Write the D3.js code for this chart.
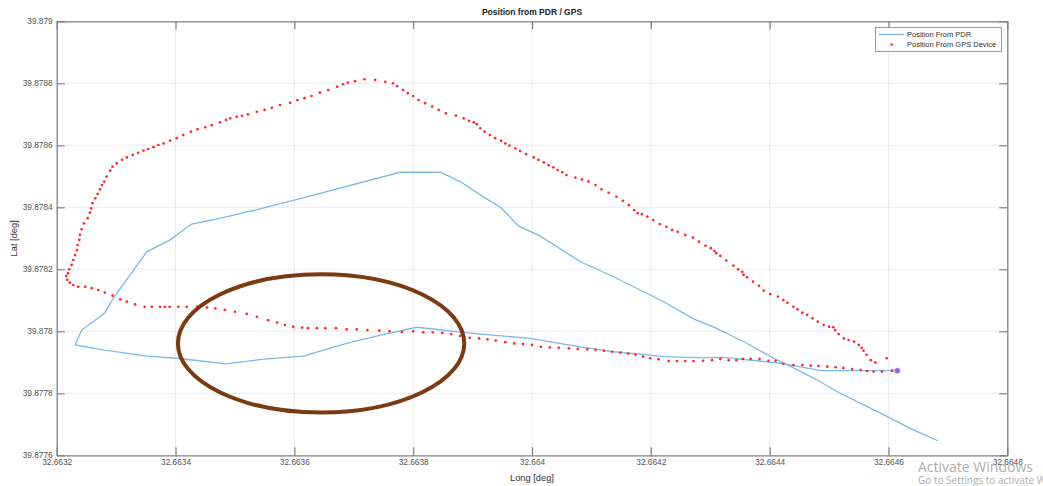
<!DOCTYPE html>
<html><head><meta charset="utf-8">
<script src="https://cdn.jsdelivr.net/npm/d3@7"></script>
<style>body{margin:0;background:#fff}svg{display:block}text{font-family:"Liberation Sans",Arial,sans-serif}</style>
</head><body><svg id="c" width="1043" height="486"></svg><script>
const titleText = "Position from PDR / GPS";
const xLabel = "Long [deg]";
const yLabel = "Lat [deg]";
const seriesNames = ["Position From PDR", "Position From GPS Device"];
const xTicks = [32.6632,32.6634,32.6636,32.6638,32.6640,32.6642,32.6644,32.6646,32.6648];
const xTickLabels = ["32.6632","32.6634","32.6636","32.6638","32.664","32.6642","32.6644","32.6646","32.6648"];
const yTicks = [39.8776,39.8778,39.8780,39.8782,39.8784,39.8786,39.8788,39.8790];
const yTickLabels = ["39.8776","39.8778","39.878","39.8782","39.8784","39.8786","39.8788","39.879"];

const pdrLon = [32.664615,32.664486,32.664418,32.664323,32.664281,32.664222,32.664194,32.664137,32.664081,32.663997,
32.663913,32.663806,32.663745,32.663688,32.663615,32.663548,32.663486,32.663402,32.663352,32.663278,
32.663231,32.663242,32.663281,32.663295,32.663352,32.663391,32.663427,32.663461,32.663534,32.663618,
32.663778,32.663846,32.663879,32.663913,32.663949,32.663977,32.664014,32.664081,32.664137,32.664216,
32.664272,32.664305,32.664356,32.664406,32.664440,32.664480,32.664514,32.664598,32.664642,32.664683];
const pdrLat = [39.877873,39.877873,39.877897,39.877916,39.877915,39.877918,39.877924,39.877934,39.877950,39.877977,
39.877991,39.878013,39.877988,39.877961,39.877920,39.877910,39.877895,39.877913,39.877920,39.877940,
39.877956,39.878004,39.878059,39.878106,39.878257,39.878295,39.878346,39.878359,39.878391,39.878432,
39.878513,39.878513,39.878483,39.878440,39.878397,39.878340,39.878307,39.878225,39.878176,39.878101,
39.878040,39.878014,39.877967,39.877914,39.877882,39.877843,39.877805,39.877725,39.877682,39.877647];

const gpsLon = [32.664615,32.664606,32.664589,32.664575,32.664564,32.664553,32.664539,32.664524,32.664511,32.664497,
32.664482,32.664469,32.664455,32.664440,32.664423,32.664410,32.664398,32.664383,32.664368,32.664355,
32.664344,32.664331,32.664317,32.664303,32.664288,32.664272,32.664258,32.664244,32.664230,32.664213,
32.664199,32.664187,32.664174,32.664162,32.664149,32.664135,32.664121,32.664107,32.664093,32.664077,
32.664062,32.664045,32.664030,32.664015,32.664000,32.663985,32.663970,32.663955,32.663939,32.663925,
32.663911,32.663895,32.663879,32.663864,32.663849,32.663833,32.663817,32.663800,32.663781,32.663760,
32.663743,32.663723,32.663705,32.663688,32.663670,32.663652,32.663638,32.663623,32.663613,32.663598,
32.663584,32.663571,32.663556,32.663537,32.663520,32.663500,32.663483,32.663467,32.663453,32.663436,
32.663419,32.663405,32.663390,32.663382,32.663374,32.663360,32.663348,32.663332,32.663318,32.663307,
32.663294,32.663281,32.663270,32.663259,32.663248,32.663236,32.663228,32.663222,32.663218,32.663216,
32.663219,32.663221,32.663225,32.663228,32.663231,32.663234,32.663235,32.663238,32.663239,32.663242,
32.663246,32.663252,32.663256,32.663258,32.663260,32.663265,32.663269,32.663273,32.663276,32.663280,
32.663284,32.663290,32.663294,32.663301,32.663310,32.663318,32.663328,32.663337,32.663346,32.663354,
32.663363,32.663371,32.663380,32.663391,32.663402,32.663413,32.663426,32.663437,32.663450,32.663461,
32.663475,32.663485,32.663492,32.663503,32.663512,32.663522,32.663537,32.663550,32.663562,32.663576,
32.663593,32.663605,32.663617,32.663629,32.663643,32.663657,32.663672,32.663682,32.663690,32.663702,
32.663718,32.663736,32.663753,32.663766,32.663773,32.663783,32.663791,32.663800,32.663809,32.663820,
32.663832,32.663843,32.663855,32.663872,32.663885,32.663894,32.663902,32.663907,32.663913,32.663920,
32.663929,32.663938,32.663948,32.663955,32.663962,32.663972,32.663980,32.663990,32.664003,32.664011,
32.664020,32.664028,32.664036,32.664043,32.664051,32.664058,32.664073,32.664084,32.664095,32.664107,
32.664117,32.664129,32.664142,32.664153,32.664163,32.664172,32.664178,32.664185,32.664194,32.664204,
32.664215,32.664226,32.664236,32.664245,32.664258,32.664271,32.664281,32.664292,32.664301,32.664307,
32.664310,32.664317,32.664327,32.664339,32.664347,32.664354,32.664356,32.664362,32.664372,32.664382,
32.664390,32.664401,32.664414,32.664423,32.664430,32.664440,32.664447,32.664455,32.664463,32.664472,
32.664481,32.664491,32.664500,32.664507,32.664510,32.664516,32.664525,32.664533,32.664542,32.664550,
32.664555,32.664558,32.664563,32.664570,32.664578,32.664597];
const gpsLat = [39.877873,39.877873,39.877870,39.877870,39.877872,39.877875,39.877878,39.877882,39.877884,39.877886,
39.877888,39.877889,39.877891,39.877891,39.877895,39.877905,39.877905,39.877911,39.877911,39.877911,
39.877907,39.877907,39.877911,39.877907,39.877905,39.877904,39.877904,39.877904,39.877904,39.877910,
39.877913,39.877918,39.877925,39.877928,39.877931,39.877934,39.877937,39.877940,39.877942,39.877943,
39.877945,39.877947,39.877948,39.877950,39.877956,39.877959,39.877961,39.877965,39.877970,39.877974,
39.877977,39.877979,39.877985,39.877991,39.877995,39.877997,39.877997,39.878000,39.877998,39.878000,
39.878002,39.878004,39.878006,39.878006,39.878010,39.878010,39.878010,39.878010,39.878012,39.878015,
39.878020,39.878028,39.878036,39.878047,39.878056,39.878063,39.878069,39.878074,39.878077,39.878079,
39.878079,39.878079,39.878079,39.878079,39.878079,39.878079,39.878079,39.878087,39.878096,39.878103,
39.878115,39.878125,39.878133,39.878139,39.878144,39.878144,39.878149,39.878157,39.878166,39.878178,
39.878187,39.878200,39.878214,39.878230,39.878246,39.878262,39.878278,39.878295,39.878311,39.878329,
39.878348,39.878365,39.878383,39.878397,39.878413,39.878429,39.878443,39.878458,39.878472,39.878483,
39.878499,39.878518,39.878531,39.878542,39.878553,39.878561,39.878569,39.878576,39.878583,39.878588,
39.878594,39.878601,39.878606,39.878615,39.878623,39.878633,39.878644,39.878652,39.878658,39.878665,
39.878674,39.878682,39.878687,39.878692,39.878695,39.878700,39.878708,39.878714,39.878721,39.878730,
39.878737,39.878746,39.878752,39.878759,39.878770,39.878778,39.878789,39.878797,39.878802,39.878807,
39.878813,39.878811,39.878805,39.878800,39.878791,39.878778,39.878768,39.878759,39.878746,39.878736,
39.878725,39.878714,39.878703,39.878696,39.878687,39.878679,39.878674,39.878668,39.878655,39.878644,
39.878633,39.878623,39.878614,39.878606,39.878599,39.878590,39.878582,39.878572,39.878561,39.878553,
39.878545,39.878536,39.878529,39.878520,39.878513,39.878504,39.878496,39.878490,39.878483,39.878472,
39.878458,39.878447,39.878434,39.878421,39.878407,39.878391,39.878381,39.878378,39.878370,39.878359,
39.878346,39.878337,39.878327,39.878321,39.878311,39.878302,39.878289,39.878276,39.878268,39.878259,
39.878252,39.878243,39.878228,39.878212,39.878200,39.878192,39.878182,39.878174,39.878160,39.878147,
39.878131,39.878120,39.878112,39.878101,39.878092,39.878079,39.878071,39.878060,39.878053,39.878042,
39.878031,39.878020,39.878015,39.878013,39.878004,39.877991,39.877977,39.877972,39.877967,39.877956,
39.877947,39.877937,39.877924,39.877907,39.877899,39.877913];

// hand-drawn annotation ellipse (center lon/lat, radii in deg)
const ellipseCenter = [32.663645, 39.877961];
const ellipseRadii = [0.000241, 0.000223];
const watermark = ["Activate Windows", "Go to Settings to activate Windows."];

const L = 56.7, R = 1007.3, T = 21.3, B = 455.3;
const x = d3.scaleLinear().domain([xTicks[0], xTicks[xTicks.length-1]]).range([L, R]);
const y = d3.scaleLinear().domain([yTicks[0], yTicks[yTicks.length-1]]).range([B, T]);
const svg = d3.select("#c");

// grid
const grid = svg.append("g").attr("stroke", "#ececec").attr("stroke-width", 1);
grid.selectAll(".gx").data(xTicks.slice(1, -1)).join("line")
  .attr("x1", d => x(d)).attr("x2", d => x(d)).attr("y1", T).attr("y2", B);
grid.selectAll(".gy").data(yTicks.slice(1, -1)).join("line")
  .attr("y1", d => y(d)).attr("y2", d => y(d)).attr("x1", L).attr("x2", R);

// data
const pdr = pdrLon.map((d, i) => [d, pdrLat[i]]);
const gps = gpsLon.map((d, i) => [d, gpsLat[i]]);
svg.append("path").datum(pdr)
  .attr("d", d3.line().x(d => x(d[0])).y(d => y(d[1])))
  .attr("fill", "none").attr("stroke", "#7db8e6").attr("stroke-width", 1.3);
svg.append("g").attr("fill", "#ff2a2a").selectAll("circle").data(gps).join("circle")
  .attr("cx", d => x(d[0])).attr("cy", d => y(d[1])).attr("r", 1.35);
svg.append("circle").attr("cx", x(gps[0][0])).attr("cy", y(gps[0][1])).attr("r", 2.8)
  .attr("fill", "#8a6ad8").attr("opacity", 0.85);

// annotation ellipse
svg.append("ellipse")
  .attr("cx", x(ellipseCenter[0])).attr("cy", y(ellipseCenter[1]))
  .attr("rx", x(ellipseCenter[0] + ellipseRadii[0]) - x(ellipseCenter[0]))
  .attr("ry", y(ellipseCenter[1]) - y(ellipseCenter[1] + ellipseRadii[1]))
  .attr("fill", "none").attr("stroke", "#7a3a12").attr("stroke-width", 4);

// axes
function styleAxis(g) {
  g.select(".domain").attr("stroke", "#7f7f7f").attr("stroke-width", 1.3);
  g.selectAll(".tick line").attr("stroke", "#7f7f7f").attr("stroke-width", 1.2);
  g.selectAll(".tick text").attr("fill", "#555").style("font-size", "8.3px")
    .style("font-family", "'Liberation Sans', Arial, sans-serif");
}
svg.append("g").attr("transform", `translate(0,${B})`)
  .call(d3.axisBottom(x).tickValues(xTicks).tickFormat((d, i) => xTickLabels[i]).tickSizeInner(-8).tickSizeOuter(0).tickPadding(4))
  .call(styleAxis);
svg.append("g").attr("transform", `translate(0,${T})`)
  .call(d3.axisTop(x).tickValues(xTicks).tickFormat("").tickSizeInner(-8).tickSizeOuter(0))
  .call(styleAxis);
svg.append("g").attr("transform", `translate(${L},0)`)
  .call(d3.axisLeft(y).tickValues(yTicks).tickFormat((d, i) => yTickLabels[i]).tickSizeInner(-8).tickSizeOuter(0).tickPadding(4))
  .call(styleAxis);
svg.append("g").attr("transform", `translate(${R},0)`)
  .call(d3.axisRight(y).tickValues(yTicks).tickFormat("").tickSizeInner(-8).tickSizeOuter(0))
  .call(styleAxis);

// title & labels
svg.append("text").attr("x", (L + R) / 2).attr("y", 15).attr("text-anchor", "middle")
  .style("font-size", "8.5px").style("font-weight", "bold").attr("fill", "#222").text(titleText);
svg.append("text").attr("x", (L + R) / 2).attr("y", 481).attr("text-anchor", "middle")
  .style("font-size", "9.3px").attr("fill", "#333").text(xLabel);
svg.append("text").attr("transform", `translate(17,${(T + B) / 2}) rotate(-90)`).attr("text-anchor", "middle")
  .style("font-size", "9.3px").attr("fill", "#333").text(yLabel);

// legend
const lg = svg.append("g");
lg.append("rect").attr("x", 875.5).attr("y", 27.5).attr("width", 126).attr("height", 24)
  .attr("fill", "#fff").attr("stroke", "#9a9a9a").attr("stroke-width", 1);
lg.append("line").attr("x1", 879).attr("x2", 904).attr("y1", 34.5).attr("y2", 34.5)
  .attr("stroke", "#7db8e6").attr("stroke-width", 1.5);
lg.append("circle").attr("cx", 891.7).attr("cy", 44.5).attr("r", 1.3).attr("fill", "#ff2a2a");
lg.selectAll("text").data(seriesNames).join("text")
  .attr("x", 907).attr("y", (d, i) => 37.3 + i * 10).style("font-size", "7.5px").attr("fill", "#333").text(d => d);

// watermark
svg.append("text").attr("x", 918).attr("y", 472).style("font-size", "14px").attr("fill", "#9a9a9a")
  .attr("opacity", 0.8).style("font-family", "'Open Sans', 'Liberation Sans', sans-serif").text(watermark[0]);
svg.append("text").attr("x", 918).attr("y", 484).style("font-size", "10px").attr("fill", "#9a9a9a")
  .attr("opacity", 0.8).style("font-family", "'Open Sans', 'Liberation Sans', sans-serif").text(watermark[1]);
</script></body></html>
